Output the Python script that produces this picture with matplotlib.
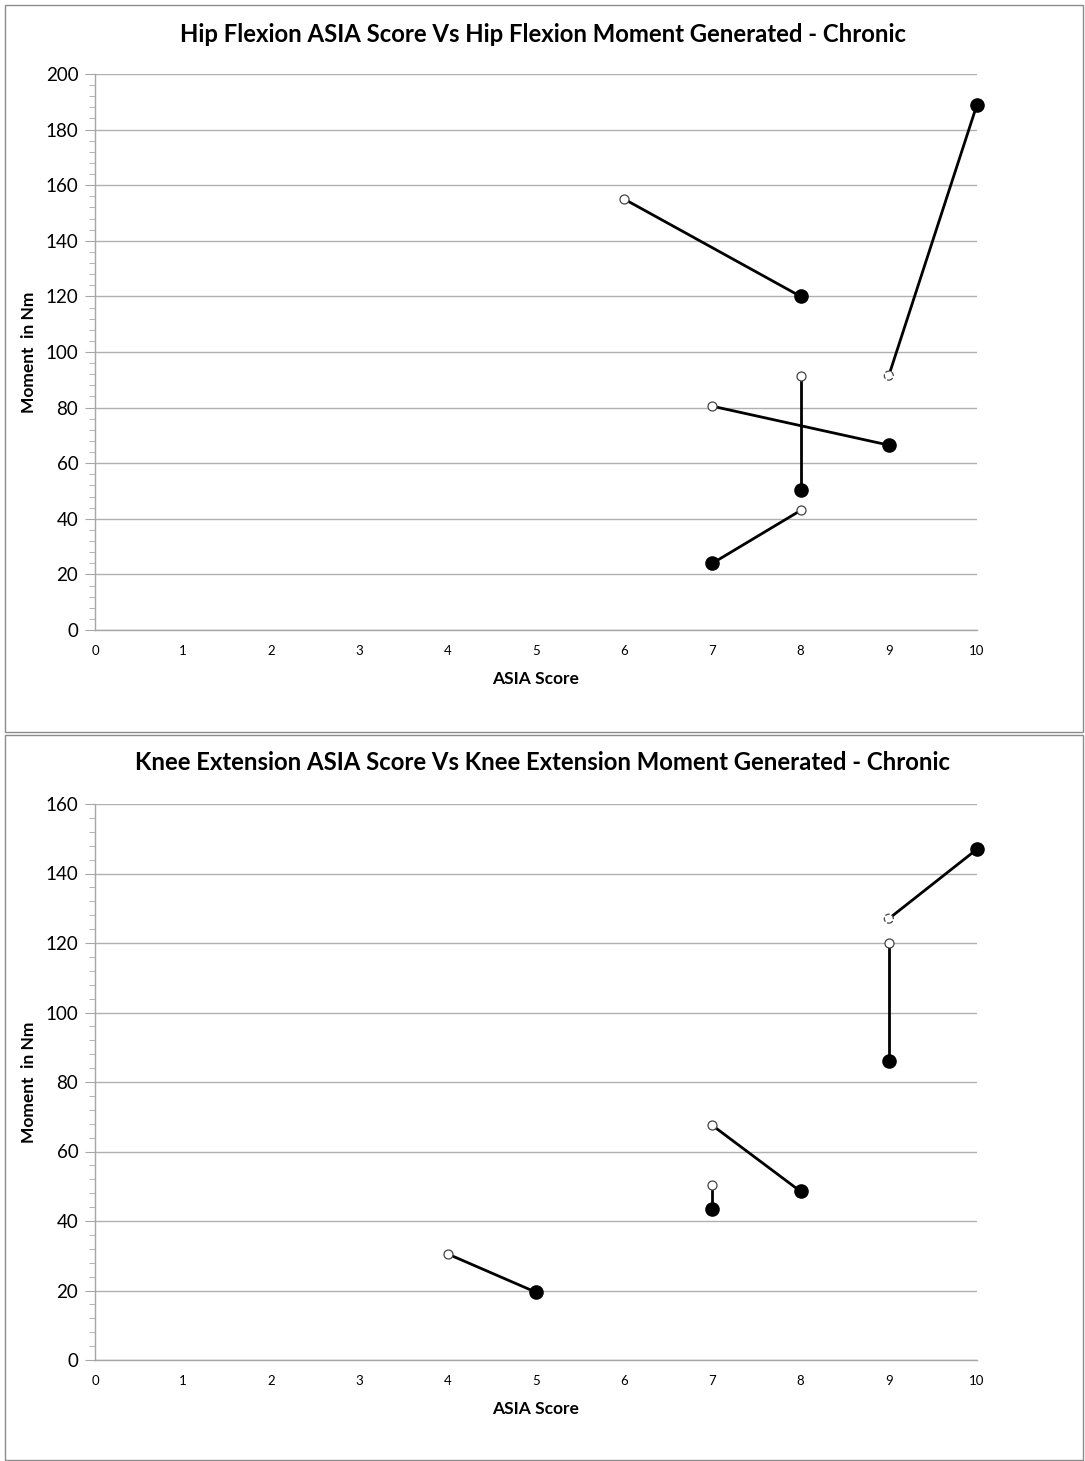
import matplotlib
matplotlib.use("Agg")
import matplotlib.pyplot as plt
from matplotlib.patches import Rectangle
from matplotlib.ticker import MultipleLocator

plt.rcParams['font.family'] = ['Lato', 'DejaVu Sans']

# Hip flexion (chronic): open marker = one end, filled marker = other end
hip_open_x = [6, 9, 8, 7, 8]
hip_open_y = [155, 91.5, 91.5, 80.5, 43]
hip_fill_x = [8, 10, 8, 9, 7]
hip_fill_y = [120, 189, 50.5, 66.5, 24]
hip_open_dashed = [False, True, False, False, False]

# Knee extension (chronic)
knee_open_x = [9, 9, 7, 7, 4]
knee_open_y = [127, 120, 67.5, 50.5, 30.5]
knee_fill_x = [10, 9, 8, 7, 5]
knee_fill_y = [147, 86, 48.5, 43.5, 19.5]
knee_open_dashed = [True, False, False, False, False]

x_ticks = list(range(0, 11))
hip_title = "Hip Flexion ASIA Score Vs Hip Flexion Moment Generated - Chronic"
knee_title = "Knee Extension ASIA Score Vs Knee Extension Moment Generated - Chronic"
x_label = "ASIA Score"
y_label = "Moment  in Nm"

W, H = 1085, 1461
fig = plt.figure(figsize=(W / 100, H / 100), dpi=100)

# panel borders
for (y0, y1) in [(5, 732), (735, 1460)]:
    fig.patches.append(Rectangle((5 / W, 1 - y1 / H), (1083 - 5) / W, (y1 - y0) / H,
                                 transform=fig.transFigure, fill=False,
                                 edgecolor='#8c8c8c', linewidth=1.0))

def draw(ax, ox, oy, fx, fy, dashed, ymax, title, title_y):
    ax.set_xlim(0, 10)
    ax.set_ylim(0, ymax)
    for i in range(len(ox)):
        ax.plot([ox[i], fx[i]], [oy[i], fy[i]], color='black', lw=2.0, zorder=3,
                solid_capstyle='butt', clip_on=False)
        ax.scatter([ox[i]], [oy[i]], s=42, facecolor='white', edgecolor='#444444',
                   linewidths=0.9, linestyles='--' if dashed[i] else '-', zorder=4,
                   clip_on=False)
        ax.scatter([fx[i]], [fy[i]], s=90, color='black', zorder=5, clip_on=False)
    ax.set_xticks(x_ticks)
    ax.yaxis.set_major_locator(MultipleLocator(20))
    ax.yaxis.set_minor_locator(MultipleLocator(4))
    ax.yaxis.grid(True, color='#b0b0b0', lw=1.0)
    ax.xaxis.grid(False)
    ax.set_axisbelow(True)
    for s in ['top', 'right']:
        ax.spines[s].set_visible(False)
    for s in ['left', 'bottom']:
        ax.spines[s].set_color('#a6a6a6')
        ax.spines[s].set_linewidth(1.0)
    ax.tick_params(axis='y', which='major', length=7, color='#a6a6a6', labelsize=13.5, pad=5)
    ax.tick_params(axis='y', which='minor', length=4, color='#a6a6a6')
    ax.tick_params(axis='x', which='both', length=0, labelsize=9.5, pad=11)
    ax.set_xlabel(x_label, fontsize=12.5, fontweight='bold', labelpad=10)
    ax.set_ylabel(y_label, fontsize=12.5, fontweight='bold', labelpad=6)
    fig.text(0.5, title_y, title, ha='center', va='center', fontsize=17.2, fontweight='bold')

ax1 = fig.add_axes([95 / W, 1 - 630 / H, (977 - 95) / W, (630 - 74) / H])
draw(ax1, hip_open_x, hip_open_y, hip_fill_x, hip_fill_y, hip_open_dashed, 200,
     hip_title, 1 - 34 / H)

ax2 = fig.add_axes([95 / W, 1 - 1360 / H, (977 - 95) / W, (1360 - 804) / H])
draw(ax2, knee_open_x, knee_open_y, knee_fill_x, knee_fill_y, knee_open_dashed, 160,
     knee_title, 1 - 763 / H)

fig.savefig("out.png", dpi=100)
